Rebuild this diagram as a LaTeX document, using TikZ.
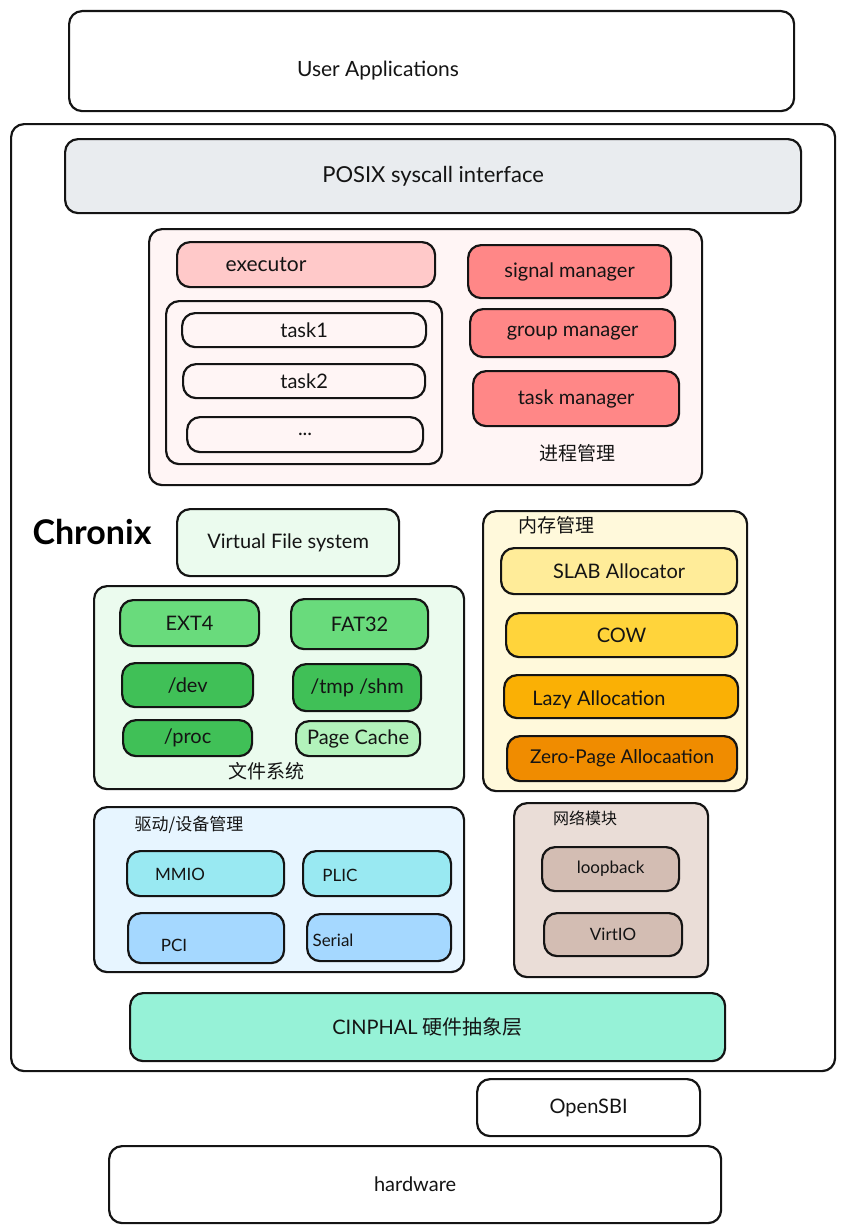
\documentclass[tikz,border=0pt]{standalone}
\usepackage{fontspec}
\setmainfont{Lato}
\newfontfamily\cjk{Noto Sans CJK SC}
\definecolor{cgray}{HTML}{E9ECEF}
\definecolor{cpinkbg}{HTML}{FFF5F5}
\definecolor{cpink}{HTML}{FFC9C9}
\definecolor{cred}{HTML}{FF8787}
\definecolor{cgreenbg}{HTML}{EBFBEE}
\definecolor{cgreen}{HTML}{69DB7C}
\definecolor{cgreendk}{HTML}{40C057}
\definecolor{cgreenlt}{HTML}{B2F2BB}
\definecolor{cyelbg}{HTML}{FFF9DB}
\definecolor{cyel1}{HTML}{FFEC99}
\definecolor{cyel2}{HTML}{FFD43B}
\definecolor{cyel3}{HTML}{FAB005}
\definecolor{corange}{HTML}{F08C00}
\definecolor{cbluebg}{HTML}{E7F5FF}
\definecolor{ccyan}{HTML}{99E9F2}
\definecolor{cblue}{HTML}{A5D8FF}
\definecolor{cbrownbg}{HTML}{EADDD7}
\definecolor{cbrown}{HTML}{D3BDB3}
\definecolor{cteal}{HTML}{96F2D7}
\tikzset{
  box/.style={draw=black!92, line width=2.2pt, rounded corners=13pt, inner sep=0pt, anchor=north west,
    font=\fontsize{20}{24}\selectfont, text=black!92},
  txt/.style={inner sep=0pt, font=\fontsize{20}{24}\selectfont, text=black!92},
  stxt/.style={inner sep=0pt, font=\fontsize{17}{20}\selectfont, text=black!92},
  ctxt/.style={inner sep=0pt, font=\cjk\fontsize{19}{22}\selectfont, text=black!92},
}
\newcommand{\bx}[7]{\node[box,fill=#2,minimum width={(#5-#3)*1pt},minimum height={(#6-#4)*1pt}] (#1) at (#3,#4) {#7};}
\begin{document}
\begin{tikzpicture}[x=1pt,y=-1pt]
\useasboundingbox (0,0) rectangle (844,1231);
% outer boxes
\bx{user}{white}{68}{10}{793}{110}{}
\node[txt, font=\fontsize{21}{24}\selectfont] (usert) at (378,71) {User Applications};
\bx{chronix}{white}{10}{123}{834}{1070}{}
\bx{posix}{cgray}{64}{138}{800}{212}{\fontsize{22}{26}\selectfont POSIX syscall interface}
% process management
\bx{proc}{cpinkbg}{148}{228}{701}{484}{}
\bx{executor}{cpink}{176}{241}{434}{286}{}
\node[txt, font=\fontsize{21}{24}\selectfont] (executort) at (266,265) {executor};
\bx{tasks}{cpinkbg}{165}{300}{441}{463}{}
\bx{task1}{cpinkbg}{181}{312}{425}{346}{task1}
\bx{task2}{cpinkbg}{182}{363}{424}{397}{task2}
\bx{taskn}{cpinkbg}{186}{416}{422}{451}{...}
\bx{signal}{cred}{467}{244}{670}{297}{signal manager}
\bx{group}{cred}{469}{308}{674}{356}{group manager}
\bx{taskmgr}{cred}{472}{370}{678}{425}{task manager}
\node[ctxt] (procl) at (577,453) {进程管理};
% Chronix label
\node[inner sep=0pt, font=\fontsize{34}{38}\selectfont\bfseries] (chronixl) at (92,532) {Chronix};
% file systems
\bx{vfs}{cgreenbg}{176}{508}{398}{575}{Virtual File system}
\bx{fs}{cgreenbg}{93}{585}{463}{788}{}
\bx{ext4}{cgreen}{119}{599}{258}{645}{EXT4}
\bx{fat32}{cgreen}{290}{598}{427}{648}{FAT32}
\bx{dev}{cgreendk}{121}{662}{252}{706}{/dev}
\bx{tmp}{cgreendk}{292}{663}{420}{710}{/tmp /shm}
\bx{procfs}{cgreendk}{122}{719}{251}{755}{/proc}
\bx{pcache}{cgreenlt}{295}{720}{419}{755}{Page Cache}
\node[ctxt] (fsl) at (266,771) {文件系统};
% memory
\bx{mem}{cyelbg}{482}{510}{746}{790}{}
\node[ctxt] (meml) at (556,525) {内存管理};
\bx{slab}{cyel1}{500}{547}{736}{593}{SLAB Allocator}
\bx{cow}{cyel2}{505}{612}{736}{656}{COW}
\bx{lazy}{cyel3}{503}{674}{737}{717}{}
\node[txt] (lazyt) at (599,700) {Lazy Allocation};
\bx{zero}{corange}{506}{735}{736}{780}{\fontsize{19}{22}\selectfont Zero-Page Allocaation}
% drivers
\bx{drv}{cbluebg}{93}{806}{463}{971}{}
\node[ctxt, font=\cjk\fontsize{17}{20}\selectfont] (drvl) at (189,825) {驱动/设备管理};
\bx{mmio}{ccyan}{126}{850}{283}{895}{}
\node[stxt] (mmiot) at (180,874) {MMIO};
\bx{plic}{ccyan}{302}{850}{450}{895}{}
\node[stxt] (plict) at (340,875) {PLIC};
\bx{pci}{cblue}{127}{912}{283}{962}{}
\node[stxt] (pcit) at (174,945) {PCI};
\bx{serial}{cblue}{306}{913}{450}{960}{}
\node[stxt] (serialt) at (333,940) {Serial};
% network
\bx{net}{cbrownbg}{513}{802}{707}{976}{}
\node[ctxt, font=\cjk\fontsize{16}{19}\selectfont] (netl) at (585,818) {网络模块};
\bx{loop}{cbrown}{541}{846}{678}{890}{\fontsize{17}{20}\selectfont loopback}
\bx{virtio}{cbrown}{543}{912}{681}{955}{\fontsize{17}{20}\selectfont VirtIO}
% HAL
\bx{hal}{cteal}{129}{992}{724}{1060}{CINPHAL {\cjk 硬件抽象层}}
% below
\bx{sbi}{white}{476}{1078}{699}{1135}{OpenSBI}
\bx{hw}{white}{108}{1145}{720}{1222}{hardware}
\end{tikzpicture}
\end{document}
